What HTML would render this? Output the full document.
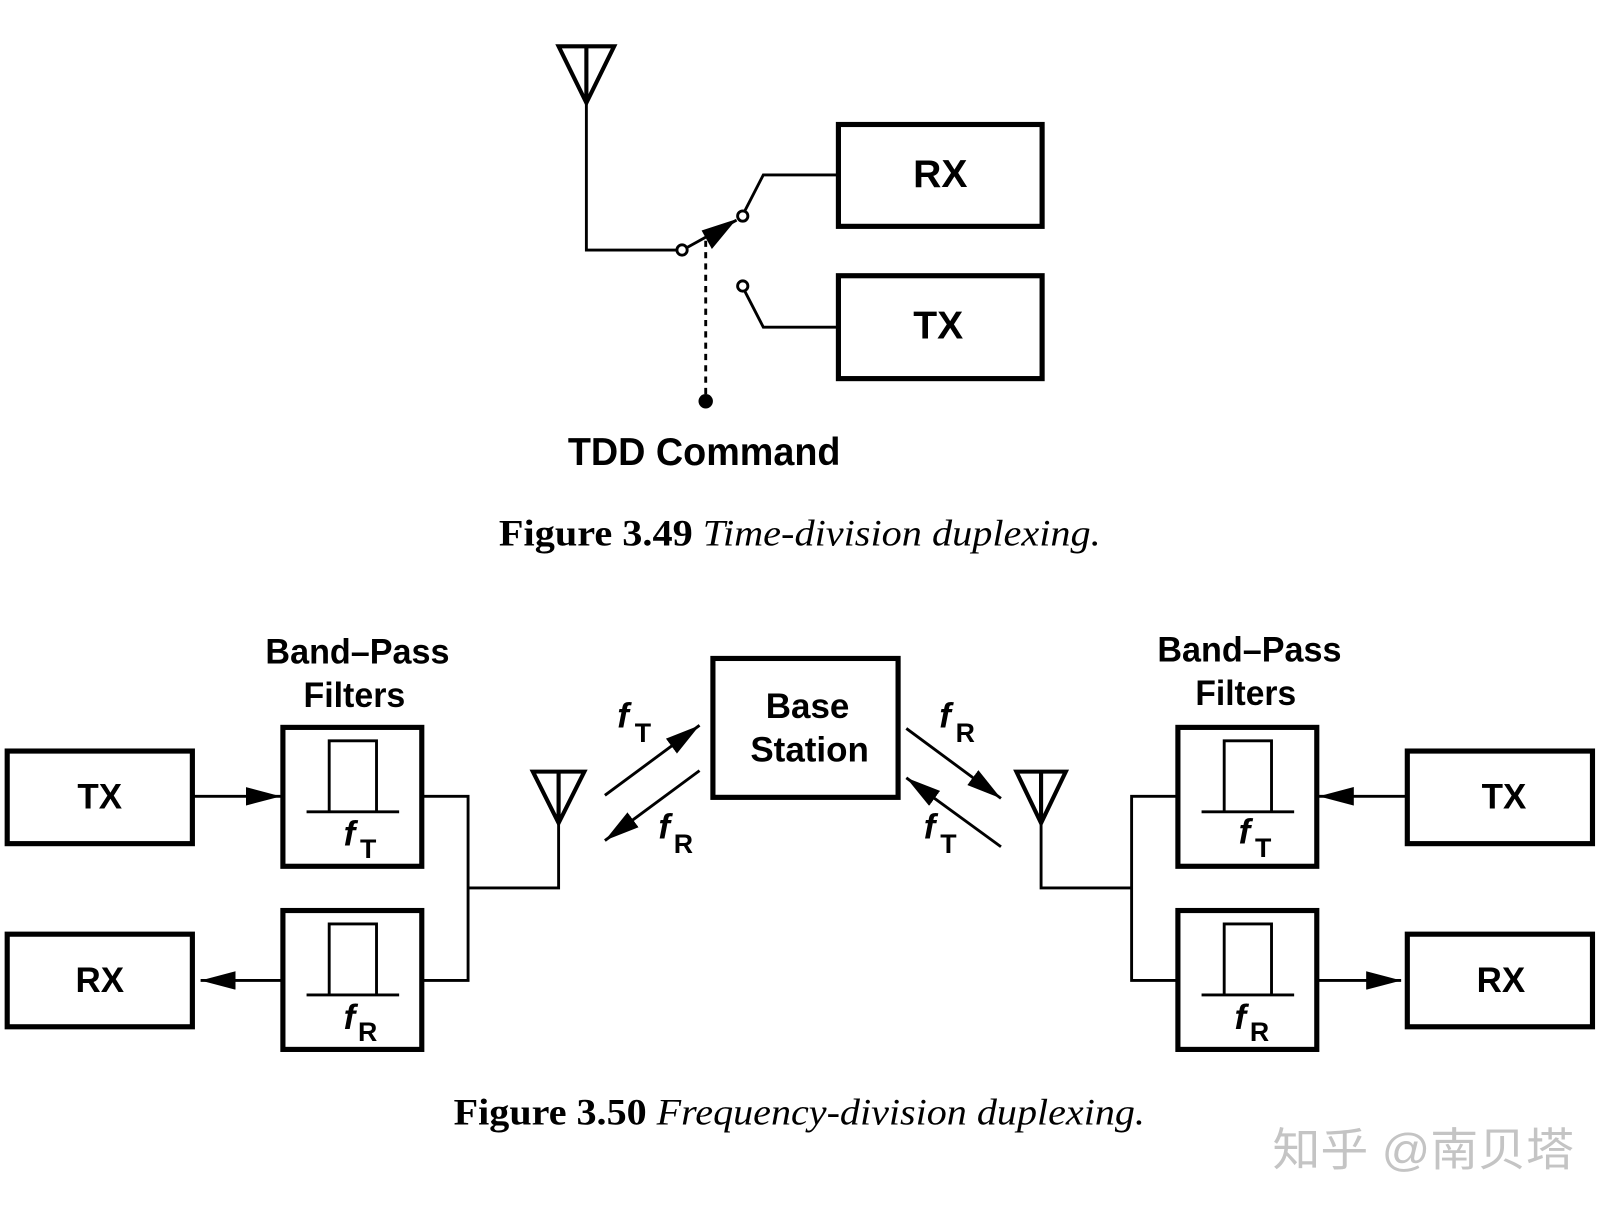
<!DOCTYPE html>
<html><head><meta charset="utf-8"><style>html,body{margin:0;padding:0;background:#fff}svg{display:block}</style></head><body>
<svg width="1611" height="1213" viewBox="0 0 1566 1179" preserveAspectRatio="none" xmlns="http://www.w3.org/2000/svg">
<defs>
<marker id="ah" viewBox="0 0 10 10" preserveAspectRatio="none" refX="10" refY="5" markerWidth="34" markerHeight="18" markerUnits="userSpaceOnUse" orient="auto"><path d="M0,0 L10,5 L0,10 z" fill="#000"/></marker>
</defs>
<g fill="none" stroke="#000" stroke-width="2.8">
<path d="M543,45 L597,45 L570,100 Z M570,45 L570,100" stroke-width="4"/>
<path d="M570,100 L570,243 L658,243"/>
<circle cx="663" cy="243" r="5" fill="#fff"/>
<line x1="667" y1="241" x2="716" y2="214"/>
<path d="M716,213 L682,224 L692,242 Z" fill="#000" stroke="none"/>
<circle cx="722" cy="210" r="5" fill="#fff"/>
<path d="M724,205 L742,170 L815,170"/>
<circle cx="722" cy="278" r="5" fill="#fff"/>
<path d="M724,283 L742,318 L815,318"/>
<line x1="686" y1="234" x2="686" y2="385" stroke-dasharray="6,5"/>
<rect x="815" y="121" width="198" height="99" stroke-width="5"/>
<rect x="815" y="268" width="198" height="100" stroke-width="5"/>
</g>
<circle cx="686" cy="390" r="7" fill="#000"/>
<g font-family="Liberation Sans, sans-serif" font-weight="bold" fill="#000">
<text x="914" y="182" font-size="38" text-anchor="middle">RX</text>
<text x="912" y="329" font-size="38" text-anchor="middle">TX</text>
<text x="552" y="452" font-size="38" textLength="265" lengthAdjust="spacingAndGlyphs">TDD Command</text>
</g>
<text x="485" y="530" font-family="Liberation Serif, serif" font-size="36" textLength="585" lengthAdjust="spacingAndGlyphs"><tspan font-weight="bold">Figure 3.49</tspan><tspan font-style="italic">  Time-division duplexing.</tspan></text>

<g fill="none" stroke="#000" stroke-width="2.8">
<rect x="7" y="730" width="180" height="90" stroke-width="5"/>
<rect x="7" y="908" width="180" height="90" stroke-width="5"/>
<rect x="275" y="707" width="135" height="135" stroke-width="5"/>
<rect x="275" y="885" width="135" height="135" stroke-width="5"/>
<path d="M298,789 L388,789 M320,789 L320,720 L366,720 L366,789"/>
<path d="M298,967 L388,967 M320,967 L320,898 L366,898 L366,967"/>
<line x1="187" y1="774" x2="273" y2="774" marker-end="url(#ah)"/>
<line x1="275" y1="953" x2="195" y2="953" marker-end="url(#ah)"/>
<path d="M410,774 L455,774 L455,953 L410,953 M455,863 L543,863 L543,800"/>
<path d="M518,750 L568,750 L543,800 Z M543,750 L543,800" stroke-width="4"/>
<line x1="588" y1="773" x2="680" y2="705" marker-end="url(#ah)"/>
<line x1="680" y1="749" x2="588" y2="817" marker-end="url(#ah)"/>
<rect x="693" y="640" width="180" height="135" stroke-width="5"/>
<line x1="881" y1="708" x2="973" y2="776" marker-end="url(#ah)"/>
<line x1="973" y1="823" x2="881" y2="756" marker-end="url(#ah)"/>
<path d="M988,750 L1036,750 L1012,800 Z M1012,750 L1012,800" stroke-width="4"/>
<path d="M1012,800 L1012,863 L1100,863 M1145,774 L1100,774 L1100,953 L1145,953"/>
<rect x="1145" y="707" width="135" height="135" stroke-width="5"/>
<rect x="1145" y="885" width="135" height="135" stroke-width="5"/>
<path d="M1168,789 L1258,789 M1190,789 L1190,720 L1236,720 L1236,789"/>
<path d="M1168,967 L1258,967 M1190,967 L1190,898 L1236,898 L1236,967"/>
<rect x="1368" y="730" width="180" height="90" stroke-width="5"/>
<rect x="1368" y="908" width="180" height="90" stroke-width="5"/>
<line x1="1368" y1="774" x2="1282" y2="774" marker-end="url(#ah)"/>
<line x1="1280" y1="953" x2="1362" y2="953" marker-end="url(#ah)"/>
</g>
<g font-family="Liberation Sans, sans-serif" font-weight="bold" fill="#000" font-size="34">
<text x="258" y="645" textLength="179" lengthAdjust="spacingAndGlyphs">Band–Pass</text>
<text x="295" y="687" textLength="99" lengthAdjust="spacingAndGlyphs">Filters</text>
<text x="1125" y="643" textLength="179" lengthAdjust="spacingAndGlyphs">Band–Pass</text>
<text x="1162" y="685" textLength="98" lengthAdjust="spacingAndGlyphs">Filters</text>
<text x="97" y="786" text-anchor="middle">TX</text>
<text x="97" y="964" text-anchor="middle">RX</text>
<text x="1462" y="786" text-anchor="middle">TX</text>
<text x="1459" y="964" text-anchor="middle">RX</text>
<text x="785" y="698" text-anchor="middle">Base</text>
<text x="787" y="740" text-anchor="middle">Station</text>
<text x="334" y="822" font-style="italic">f</text><text x="350" y="834" font-size="26">T</text>
<text x="334" y="1000" font-style="italic">f</text><text x="348" y="1012" font-size="26">R</text>
<text x="1204" y="820" font-style="italic">f</text><text x="1220" y="833" font-size="26">T</text>
<text x="1200" y="1000" font-style="italic">f</text><text x="1215" y="1012" font-size="26">R</text>
<text x="600" y="707" font-style="italic">f</text><text x="617" y="721" font-size="26">T</text>
<text x="640" y="815" font-style="italic">f</text><text x="655" y="829" font-size="26">R</text>
<text x="913" y="707" font-style="italic">f</text><text x="929" y="721" font-size="26">R</text>
<text x="898" y="815" font-style="italic">f</text><text x="914" y="829" font-size="26">T</text>
</g>
<text x="441" y="1093" font-family="Liberation Serif, serif" font-size="36" textLength="672" lengthAdjust="spacingAndGlyphs"><tspan font-weight="bold">Figure 3.50</tspan><tspan font-style="italic">  Frequency-division duplexing.</tspan></text>
<text x="1237" y="1133" font-family="Liberation Sans, 'Noto Sans CJK SC', sans-serif" font-size="44" fill="#c4c4c4" textLength="293" lengthAdjust="spacingAndGlyphs">知乎 @南贝塔</text>
</svg>
</body></html>
